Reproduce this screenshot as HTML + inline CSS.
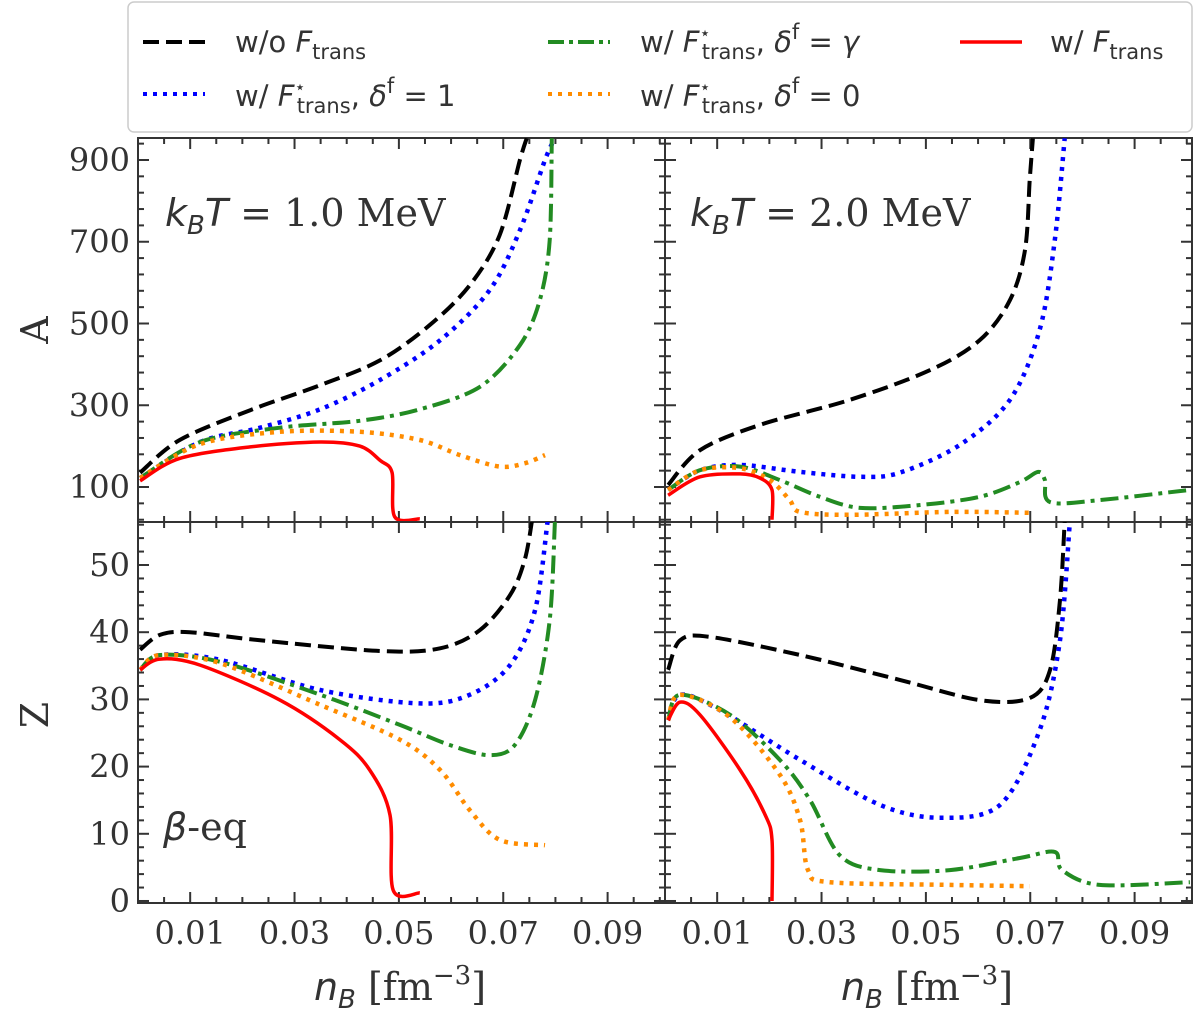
<!DOCTYPE html>
<html><head><meta charset="utf-8">
<style>
html,body{margin:0;padding:0;background:#fff;}
svg{display:block;}
.tl{font-family:"DejaVu Serif","Liberation Serif",serif;font-size:32px;fill:#333;}
.lg{font-family:"DejaVu Sans","Liberation Sans",sans-serif;font-size:29px;fill:#333;}
.an{font-family:"DejaVu Serif","Liberation Serif",serif;font-size:38px;fill:#333;}
</style></head>
<body>
<svg id="chart" width="1200" height="1013" viewBox="0 0 1200 1013" xmlns="http://www.w3.org/2000/svg">
<defs>
<clipPath id="c-tl"><rect x="138" y="138" width="527" height="384"/></clipPath>
<clipPath id="c-tr"><rect x="665" y="138" width="527" height="384"/></clipPath>
<clipPath id="c-bl"><rect x="138" y="522" width="527" height="381"/></clipPath>
<clipPath id="c-br"><rect x="665" y="522" width="527" height="381"/></clipPath>
</defs>
<g>
<rect x="128" y="2" width="1064" height="130" rx="6" fill="#fff" stroke="#ccc" stroke-width="1.5"/>
<g>
<line x1="143" y1="42" x2="205" y2="42" stroke="#000" stroke-width="4" stroke-dasharray="16,7"/>
<text class="lg" x="235" y="52">w/o <tspan font-style="italic">F</tspan><tspan font-size="21" dy="7">trans</tspan></text></g>
<g>
<line x1="143" y1="94" x2="205" y2="94" stroke="#00f" stroke-width="4" stroke-dasharray="4,6"/>
<text class="lg" x="235" y="106">w/ <tspan font-style="italic">F</tspan><tspan font-size="18" dy="-13">⋆</tspan><tspan font-size="21" dx="-9" dy="20">trans</tspan><tspan dy="-7">, </tspan><tspan font-style="italic">δ</tspan><tspan font-size="21" dy="-13">f</tspan><tspan dy="13"> = 1</tspan></text></g>
<g>
<line x1="548" y1="42" x2="610" y2="42" stroke="#228b22" stroke-width="4" stroke-dasharray="16,5,4,5"/>
<text class="lg" x="640" y="52">w/ <tspan font-style="italic">F</tspan><tspan font-size="18" dy="-13">⋆</tspan><tspan font-size="21" dx="-9" dy="20">trans</tspan><tspan dy="-7">, </tspan><tspan font-style="italic">δ</tspan><tspan font-size="21" dy="-13">f</tspan><tspan dy="13"> = </tspan><tspan font-style="italic">γ</tspan></text></g>
<g>
<line x1="548" y1="94" x2="610" y2="94" stroke="#ff8c00" stroke-width="4" stroke-dasharray="4,6"/>
<text class="lg" x="640" y="106">w/ <tspan font-style="italic">F</tspan><tspan font-size="18" dy="-13">⋆</tspan><tspan font-size="21" dx="-9" dy="20">trans</tspan><tspan dy="-7">, </tspan><tspan font-style="italic">δ</tspan><tspan font-size="21" dy="-13">f</tspan><tspan dy="13"> = 0</tspan></text></g>
<g>
<line x1="960" y1="42" x2="1022" y2="42" stroke="#f00" stroke-width="3.5"/>
<text class="lg" x="1050" y="52">w/ <tspan font-style="italic">F</tspan><tspan font-size="21" dy="7">trans</tspan></text></g>
</g>
<g id="plots"></g>
<text class="an" x="165" y="226"><tspan font-style="italic" font-family="DejaVu Sans, sans-serif">k</tspan><tspan font-size="26" dy="8" font-style="italic" font-family="DejaVu Sans, sans-serif">B</tspan><tspan dy="-8" font-style="italic" font-family="DejaVu Sans, sans-serif">T</tspan> = 1.0 MeV</text>
<text class="an" x="690" y="226"><tspan font-style="italic" font-family="DejaVu Sans, sans-serif">k</tspan><tspan font-size="26" dy="8" font-style="italic" font-family="DejaVu Sans, sans-serif">B</tspan><tspan dy="-8" font-style="italic" font-family="DejaVu Sans, sans-serif">T</tspan> = 2.0 MeV</text>
<text class="an" x="163" y="840"><tspan font-style="italic" font-family="DejaVu Sans, sans-serif">β</tspan>-eq</text>
<text class="an" transform="translate(48,330) rotate(-90)" text-anchor="middle">A</text>
<text class="an" transform="translate(48,715) rotate(-90)" text-anchor="middle">Z</text>
<text class="an" x="400" y="1000" text-anchor="middle"><tspan font-style="italic" font-family="DejaVu Sans, sans-serif">n</tspan><tspan font-size="26" dy="8" font-style="italic" font-family="DejaVu Sans, sans-serif">B</tspan><tspan dy="-8"> [fm</tspan><tspan font-size="26" dy="-16">−3</tspan><tspan dy="16">]</tspan></text>
<text class="an" x="927" y="1000" text-anchor="middle"><tspan font-style="italic" font-family="DejaVu Sans, sans-serif">n</tspan><tspan font-size="26" dy="8" font-style="italic" font-family="DejaVu Sans, sans-serif">B</tspan><tspan dy="-8"> [fm</tspan><tspan font-size="26" dy="-16">−3</tspan><tspan dy="16">]</tspan></text>
</svg>
<script>
const xMajorTicks = [0.01, 0.03, 0.05, 0.07, 0.09];
const xTickLabels = ["0.01", "0.03", "0.05", "0.07", "0.09"];
const aTickLabels = [100, 300, 500, 700, 900];
const zTickLabels = [0, 10, 20, 30, 40, 50];

const A1_black  = [[0.0004,135],[0.008,215],[0.0215,288],[0.0349,349],[0.0464,410],[0.0559,496],[0.0636,594],[0.0693,716],[0.0732,900],[0.0745,953]];
const A1_blue   = [[0.0004,122],[0.0119,210],[0.0234,245],[0.0349,290],[0.0464,362],[0.0579,459],[0.0674,582],[0.0732,728],[0.078,900],[0.0799,953]];
const A1_green  = [[0.0004,122],[0.0119,210],[0.0272,245],[0.0425,262],[0.054,290],[0.0655,345],[0.0732,447],[0.077,557],[0.0789,704],[0.0793,953]];
const A1_orange = [[0.0004,122],[0.0119,205],[0.0272,235],[0.0425,235],[0.054,215],[0.0617,178],[0.0693,150],[0.0741,158],[0.078,178]];
const A1_red    = [[0.0004,115],[0.008,170],[0.0215,198],[0.0349,210],[0.0425,200],[0.0464,165],[0.0487,135],[0.0492,27],[0.054,22]];
const A2_black  = [[0.0006,105],[0.0067,190],[0.0182,252],[0.0354,313],[0.0508,386],[0.0603,459],[0.0661,557],[0.069,680],[0.0699,851],[0.0705,953]];
const A2_blue   = [[0.0006,93],[0.0067,141],[0.0144,154],[0.0259,137],[0.0374,125],[0.045,135],[0.0565,203],[0.0661,313],[0.0718,484],[0.0747,704],[0.0766,953]];
const A2_green  = [[0.0006,93],[0.0067,141],[0.0144,150],[0.022,117],[0.0297,76],[0.0374,49],[0.0489,56],[0.0603,76],[0.068,112],[0.0715,137],[0.0728,117],[0.0738,63],[0.0833,68],[0.1006,93]];
const A2_orange = [[0.0006,93],[0.0067,141],[0.0144,146],[0.0201,117],[0.0239,68],[0.0259,39],[0.0354,32],[0.0546,39],[0.0699,37]];
const A2_red    = [[0.0006,80],[0.0067,125],[0.0144,132],[0.0182,122],[0.0205,93],[0.0205,20]];
const Z1_black  = [[0.0004,37.4],[0.0042,39.6],[0.0099,40],[0.0234,38.8],[0.0464,37.2],[0.0579,37.6],[0.0655,40.3],[0.0713,45.5],[0.0741,50.7],[0.0755,56.5]];
const Z1_blue   = [[0.0004,34.4],[0.0042,36.6],[0.0157,35.9],[0.0349,31.4],[0.054,29.4],[0.0636,30.7],[0.0713,35.1],[0.0761,43.3],[0.0785,56.5]];
const Z1_green  = [[0.0004,34.4],[0.0042,36.6],[0.0157,35.6],[0.0349,30.7],[0.0502,26.2],[0.0598,23.2],[0.0674,21.7],[0.0722,23.2],[0.0761,29.9],[0.0789,41.8],[0.0799,56.5]];
const Z1_orange = [[0.0004,34.4],[0.0042,36.6],[0.0157,35.4],[0.0349,29.2],[0.0502,24],[0.0579,19.5],[0.0636,13.5],[0.0693,9.1],[0.078,8.3]];
const Z1_red    = [[0.0004,34.4],[0.0042,36.0],[0.0119,35.1],[0.0272,29.9],[0.0387,24],[0.0444,19.5],[0.0483,12.8],[0.0489,1.6],[0.054,1.2]];
const Z2_black  = [[0.0006,34.4],[0.0029,38.8],[0.0086,39.3],[0.0259,36.6],[0.045,32.9],[0.0603,29.9],[0.0699,30.2],[0.0738,34.4],[0.0757,44.8],[0.0766,56.5]];
const Z2_blue   = [[0.0006,26.9],[0.0029,30.7],[0.0105,28.4],[0.0259,21],[0.0412,14.3],[0.0527,12.4],[0.0642,14.3],[0.0718,25.4],[0.0757,38.8],[0.0776,56.5]];
const Z2_green  = [[0.0006,26.9],[0.0029,30.7],[0.0125,27.7],[0.022,21],[0.0278,15],[0.0335,6.8],[0.0412,4.6],[0.0546,4.6],[0.068,6.4],[0.0747,7.3],[0.0761,4.6],[0.0833,2.4],[0.1006,2.8]];
const Z2_orange = [[0.0006,26.9],[0.0029,30.7],[0.0125,27.3],[0.022,18.8],[0.0259,12],[0.0274,4.6],[0.0316,2.8],[0.0546,2.4],[0.0699,2.2]];
const Z2_red    = [[0.0006,26.9],[0.0029,29.6],[0.0067,27.7],[0.0144,19.5],[0.0192,12.8],[0.0205,9.1],[0.0205,0]];

const NS = "http://www.w3.org/2000/svg";
const root = document.getElementById("plots");
const XMIN = 0, XMAX = 0.101, PW = 527;
const styles = {
  black:  {stroke:"#000", w:4, dash:"16,7"},
  blue:   {stroke:"#00f", w:4.5, dash:"4,6"},
  green:  {stroke:"#228b22", w:4, dash:"18,6,4,6"},
  orange: {stroke:"#ff8c00", w:4.5, dash:"4,6"},
  red:    {stroke:"#f00", w:3.5, dash:null}
};
function mk(tag, attrs, parent) {
  const e = document.createElementNS(NS, tag);
  for (const k in attrs) e.setAttribute(k, attrs[k]);
  parent.appendChild(e);
  return e;
}
function smoothPath(P) {
  let d = "M" + P[0][0].toFixed(1) + "," + P[0][1].toFixed(1);
  for (let i = 0; i < P.length - 1; i++) {
    const p0 = P[Math.max(i - 1, 0)], p1 = P[i], p2 = P[i + 1], p3 = P[Math.min(i + 2, P.length - 1)];
    const t = 0.16;
    const c1 = [p1[0] + (p2[0] - p0[0]) * t, p1[1] + (p2[1] - p0[1]) * t];
    const c2 = [p2[0] - (p3[0] - p1[0]) * t, p2[1] - (p3[1] - p1[1]) * t];
    d += "C" + c1[0].toFixed(1) + "," + c1[1].toFixed(1) + " " + c2[0].toFixed(1) + "," + c2[1].toFixed(1) + " " + p2[0].toFixed(1) + "," + p2[1].toFixed(1);
  }
  return d;
}
const panels = [
  {id:"tl", x0:138, y0:138, h:384, ymin:14.4, ymax:953.8, kind:"A", left:true, bottom:false, series:{black:A1_black,blue:A1_blue,green:A1_green,orange:A1_orange,red:A1_red}},
  {id:"tr", x0:665, y0:138, h:384, ymin:14.4, ymax:953.8, kind:"A", left:false, bottom:false, series:{black:A2_black,blue:A2_blue,green:A2_green,orange:A2_orange,red:A2_red}},
  {id:"bl", x0:138, y0:522, h:381, ymin:-0.3, ymax:56.4, kind:"Z", left:true, bottom:true, series:{black:Z1_black,blue:Z1_blue,green:Z1_green,orange:Z1_orange,red:Z1_red}},
  {id:"br", x0:665, y0:522, h:381, ymin:-0.3, ymax:56.4, kind:"Z", left:false, bottom:true, series:{black:Z2_black,blue:Z2_blue,green:Z2_green,orange:Z2_orange,red:Z2_red}}
];
panels.forEach(p => {
  const g = mk("g", {}, root);
  
  
  const sx = v => p.x0 + (v - XMIN) / (XMAX - XMIN) * PW;
  const sy = v => p.y0 + p.h - (v - p.ymin) / (p.ymax - p.ymin) * p.h;
  const ax = mk("g", {stroke:"#333", "stroke-width":2}, g);
  
  
  const top = p.y0, bot = p.y0 + p.h, L = p.x0, R = p.x0 + PW;
  for (let i = 1; i * 0.005 < XMAX; i++) {
    const v = i * 0.005;
    const major = xMajorTicks.some(t => Math.abs(t - v) < 1e-9);
    const len = major ? 11 : 6;
    const X = sx(v);
    mk("line", {x1:X, y1:bot, x2:X, y2:bot - len}, ax);
    mk("line", {x1:X, y1:top, x2:X, y2:top + len}, ax);
  }
  let minorStep, majors;
  if (p.kind === "A") { minorStep = 40; majors = aTickLabels; } else { minorStep = 2; majors = zTickLabels; }
  const start = p.kind === "A" ? 20 : 0;
  for (let v = start; v <= p.ymax; v += minorStep) {
    if (v < p.ymin) continue;
    const major = majors.some(t => Math.abs(t - v) < 1e-9);
    const len = major ? 11 : 6;
    const Y = sy(v);
    mk("line", {x1:L, y1:Y, x2:L + len, y2:Y}, ax);
    mk("line", {x1:R, y1:Y, x2:R - len, y2:Y}, ax);
  }
  mk("rect", {x:L, y:top, width:PW, height:p.h, fill:"none"}, ax);
  if (p.left) {
    majors.forEach(v => {
      const t = mk("text", {x:L - 8, y:sy(v) + 11, "text-anchor":"end", class:"tl"}, g);
      
      
      t.textContent = v;
    });
  }
  if (p.bottom) {
    xMajorTicks.forEach((v, i) => {
      const t = mk("text", {x:sx(v), y:bot + 41, "text-anchor":"middle", class:"tl"}, g);
      
      
      t.textContent = xTickLabels[i];
    });
  }
  const sg = mk("g", {"clip-path":"url(#c-" + p.id + ")", fill:"none"}, g);
  for (const name in p.series) {
    const st = styles[name];
    const pts = p.series[name].map(pt => [sx(pt[0]), sy(pt[1])]);
    const path = mk("path", {d:smoothPath(pts), stroke:st.stroke, "stroke-width":st.w, "stroke-linejoin":"round"}, sg);
    if (st.dash) path.setAttribute("stroke-dasharray", st.dash);
    
    
  }
});
</script>
</body></html>
